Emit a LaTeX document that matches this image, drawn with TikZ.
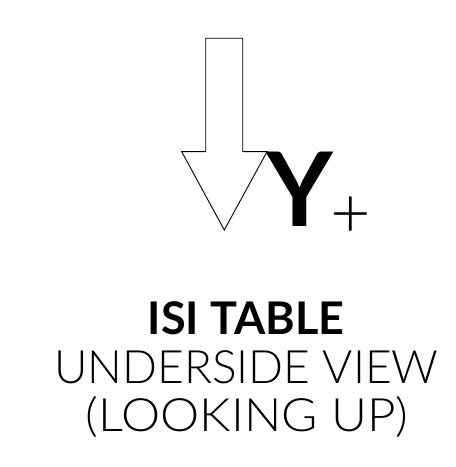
\documentclass[tikz,border=0pt]{standalone}
\usepackage{fontspec}
\usepackage{graphicx}
\setmainfont{Lato}
\newfontfamily\lt{Lato Light}
\begin{document}
\begin{tikzpicture}[x=1pt,y=1pt,
  lbl/.style={inner sep=0pt,outer sep=0pt},
  arrowshape/.style={draw=black,line width=0.9pt,fill=white,line join=miter}]
\useasboundingbox (0,0) rectangle (456,467);
% hollow arrow pointing down
\draw[arrowshape] (205.7,428.7) -- (242.7,428.7) -- (242.7,315.3) -- (267,315.3)
  -- (224.3,237) -- (181.7,315.3) -- (205.7,315.3) -- cycle;
\node[lbl,anchor=base] (y) at (300,240) {\fontsize{103}{103}\selectfont\bfseries Y};
\node[lbl,anchor=center] (plus) at (351,249.5) {\fontsize{70}{70}\selectfont\lt +};
\node[lbl,anchor=base] (t1) at (246,132) {\fontsize{45}{45}\selectfont\bfseries ISI TABLE};
\node[lbl,anchor=base] (t2) at (246.5,84) {\fontsize{46}{46}\selectfont\lt UNDERSIDE VIEW};
\node[lbl,anchor=base] (t3) at (247,35) {\scalebox{1.075}[1]{\fontsize{46}{46}\selectfont\lt (LOOKING UP)}};
\end{tikzpicture}
\end{document}
